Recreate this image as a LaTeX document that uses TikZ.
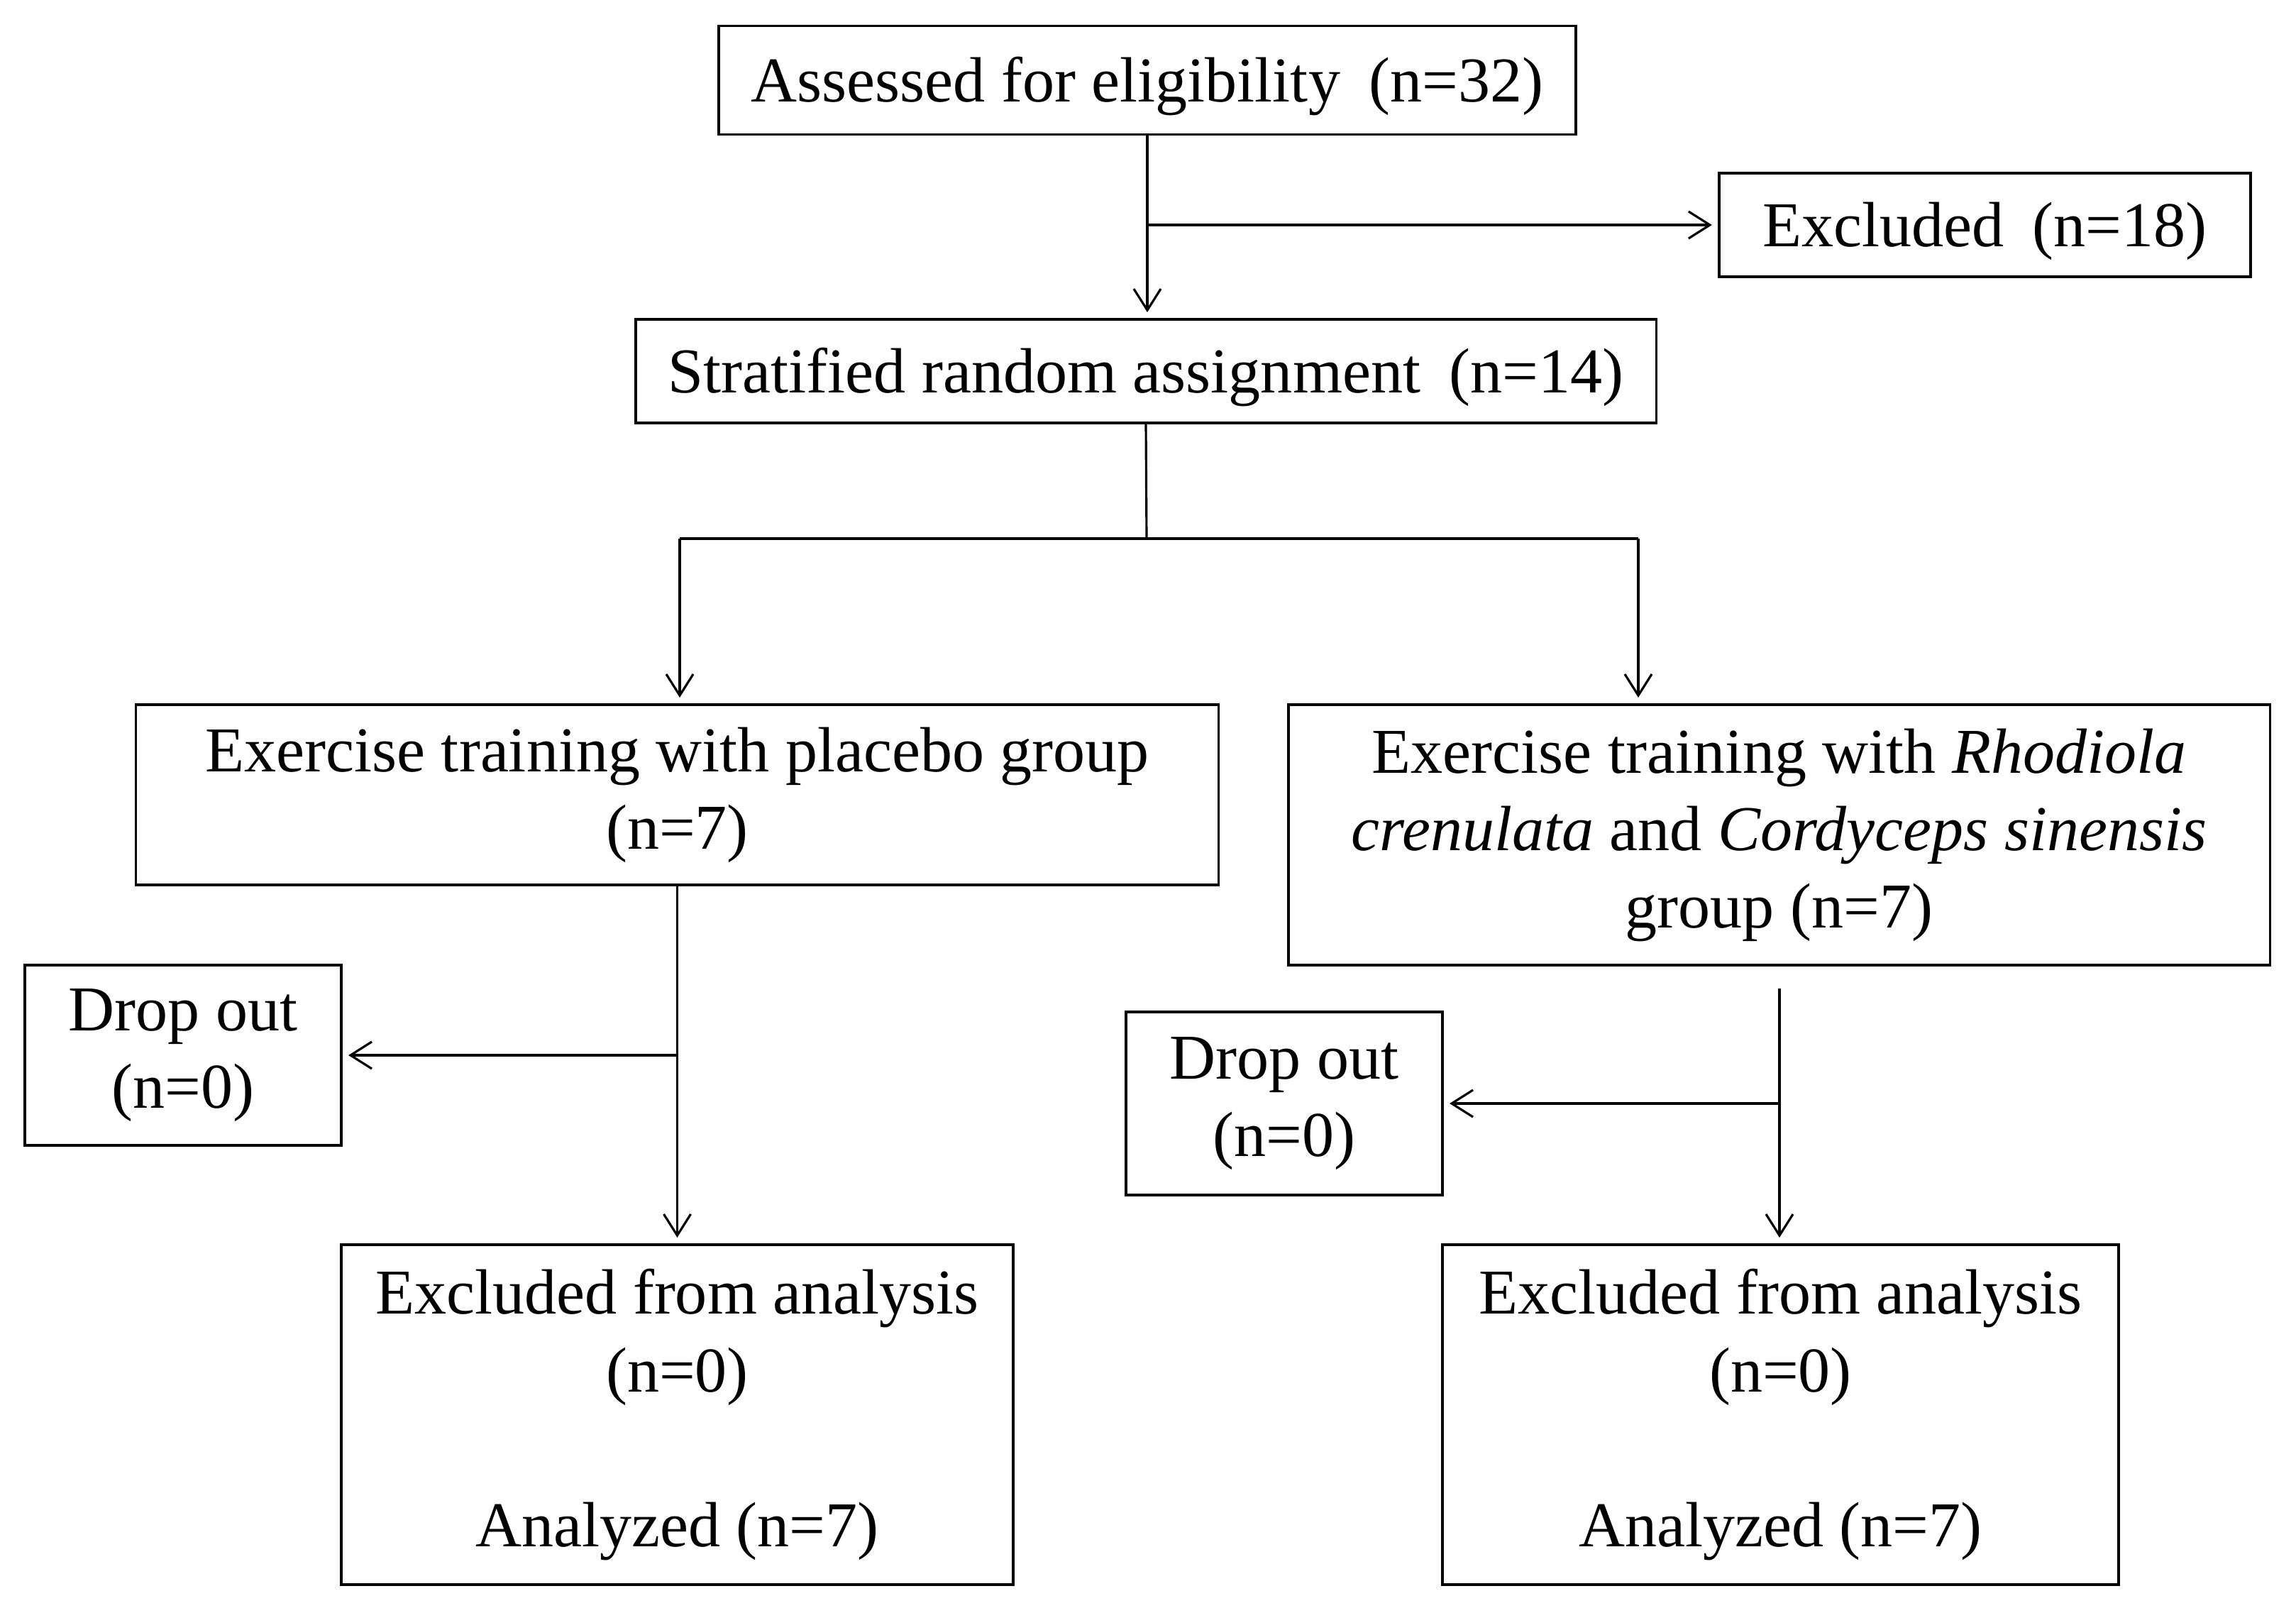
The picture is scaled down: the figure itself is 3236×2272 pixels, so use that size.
\documentclass[tikz,border=0pt]{standalone}
\usepackage{fontspec}
\setmainfont{Liberation Serif}
\usetikzlibrary{arrows.meta,calc}
\newcommand{\lowr}[1]{\raisebox{-0.09cm}[\height][\depth]{#1}}
\begin{document}
\begin{tikzpicture}[x=0.01cm,y=-0.01cm,
  box/.style={draw, line width=1.1pt, inner sep=0pt, align=center,
    font=\fontsize{25.6}{31}\selectfont},
  conn/.style={line width=0.9pt},
  arr/.style={conn, shorten >=0.08cm, -{Straight Barb[length=0.3cm,width=0.38cm,line width=0.9pt]}}]
\fill[white] (0,0) rectangle (3236,2272);
\useasboundingbox (0,0) rectangle (3236,2272);

\node[box, minimum width=12.08cm, minimum height=1.53cm] (assess) at (1617,113)
  {\lowr{Assessed for eligibility\hspace{0.45em}(n=32)}};
\node[box, minimum width=7.49cm, minimum height=1.46cm] (excl) at (2797.5,317)
  {\lowr{Excluded\hspace{0.45em}(n=18)}};
\node[box, minimum width=14.38cm, minimum height=1.46cm] (strat) at (1615,523)
  {\lowr{Stratified random assignment\hspace{0.45em}(n=14)}};
\node[box, minimum width=15.25cm, minimum height=2.54cm] (placebo) at (954.5,1120)
  {Exercise training with placebo group\\(n=7)};
\node[box, minimum width=13.83cm, minimum height=3.67cm] (rhod) at (2507.5,1176.5)
  {Exercise training with \textit{Rhodiola}\\\textit{crenulata} and \textit{Cordyceps sinensis}\\group (n=7)};
\node[box, minimum width=4.46cm, minimum height=2.54cm] (dropL) at (258,1487)
  {Drop out\\(n=0)};
\node[box, minimum width=4.46cm, minimum height=2.58cm] (dropR) at (1810,1555)
  {Drop out\\(n=0)};
\node[box, minimum width=9.47cm, minimum height=4.79cm] (exclL) at (954.5,1993.5)
  {Excluded from analysis\\(n=0)\\[31pt]Analyzed (n=7)};
\node[box, minimum width=9.53cm, minimum height=4.79cm] (exclR) at (2509.5,1993.5)
  {Excluded from analysis\\(n=0)\\[31pt]Analyzed (n=7)};

% top
\draw[arr] (assess.south) -- (assess.south |- strat.north);
\coordinate (j1) at (assess.south |- excl.west);
\draw[arr] (j1) -- (excl.west);

% split
\coordinate (split) at (1616,759);
\coordinate (bl) at (958,759);
\coordinate (br) at (2309,759);
\draw[conn] (strat.south) -- (split);
\draw[conn] (bl) -- (br);
\draw[arr] (bl) -- (bl |- placebo.north);
\draw[arr] (br) -- (br |- rhod.north);

% left column
\draw[arr] (placebo.south) -- (exclL.north);
\coordinate (jl) at (placebo.south |- dropL.east);
\draw[arr] (jl) -- (dropL.east);

% right column
\coordinate (rtop) at (2508,1393);
\draw[arr] (rtop) -- (rtop |- exclR.north);
\coordinate (jr) at (rtop |- dropR.east);
\draw[arr] (jr) -- (dropR.east);
\end{tikzpicture}
\end{document}
